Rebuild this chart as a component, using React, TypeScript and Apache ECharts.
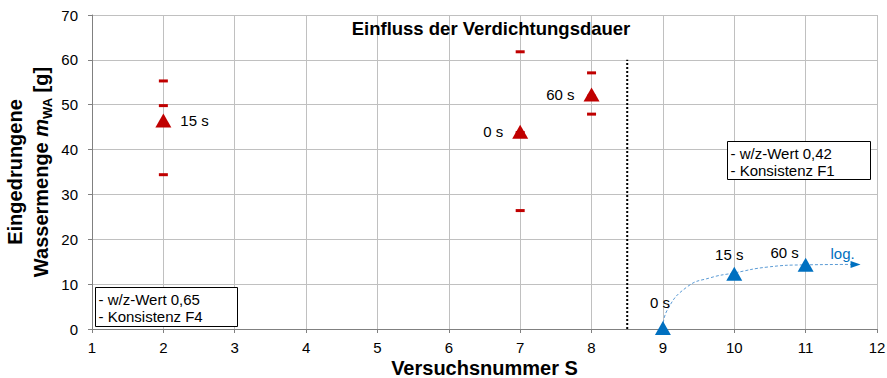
import React, { useEffect, useRef } from "react";
import * as echarts from "echarts";

// Series F4 (w/z 0.65) - mean values (triangles)
const redX = [2, 7, 8];
const redMean = [46.5, 44.0, 52.3];
const redLabels = ["15 s", "0 s", "60 s"];
// Individual measurements (dashes)
const redSingles: [number, number][] = [
  [2, 55.3], [2, 49.8], [2, 34.4],
  [7, 61.8], [7, 43.8], [7, 26.4],
  [8, 57.1], [8, 51.9], [8, 47.9],
];
// Series F1 (w/z 0.42)
const blueX = [9, 10, 11];
const blueMean = [0.2, 12.3, 14.3];
const blueLabels = ["0 s", "15 s", "60 s"];
// Logarithmic trend curve
const logCurve: [number, number][] = [
  [9.0, 0.3], [9.06, 4.2], [9.34, 9.4], [9.66, 11.4], [10.0, 12.5],
  [10.46, 13.8], [11.0, 14.3], [11.7, 14.4],
];
const divider: [number, number][] = [[8.5, 0], [8.5, 60]];

const RED = "#c00000";
const BLUE = "#0070c0";
const FONT = "Liberation Sans, Arial, sans-serif";

export default function App() {
  const ref = useRef<HTMLDivElement>(null);
  useEffect(() => {
    const chart = echarts.init(ref.current!, null, { renderer: "svg" });
    const redPos = ["right", "left", "left"];
    const bluePos = [
      { position: "top", offset: [-3, -6] },
      { position: "top", offset: [-5, 0] },
      { position: "top", offset: [-21, 7] },
    ];
    const boxText = { font: `15px ${FONT}`, fill: "#000", lineHeight: 17 };
    chart.setOption({
      animation: false,
      textStyle: { fontFamily: FONT },
      title: {
        text: "Einfluss der Verdichtungsdauer",
        left: 491,
        textAlign: "center",
        top: 19,
        padding: 0,
        textStyle: { fontSize: 18.5, fontWeight: "bold", color: "#000", fontFamily: FONT },
      },
      grid: { left: 92, right: 10, top: 15, bottom: 49, outerBoundsMode: "none", containLabel: false },
      xAxis: {
        type: "value",
        min: 1,
        max: 12,
        interval: 1,
        name: "Versuchsnummer S",
        nameLocation: "middle",
        nameGap: 28,
        nameMoveOverlap: false,
        nameTextStyle: { fontSize: 20, fontWeight: "bold", color: "#000", fontFamily: FONT, lineHeight: 21 },
        axisLine: { onZero: false, lineStyle: { color: "#808080", width: 1 } },
        axisTick: { show: true, length: 4, lineStyle: { color: "#808080" } },
        axisLabel: { fontSize: 15, color: "#000", margin: 11, fontFamily: FONT },
        splitLine: { show: true, lineStyle: { color: "#c0c0c0", width: 1 } },
      },
      yAxis: {
        type: "value",
        min: 0,
        max: 70,
        interval: 10,
        name: "Eingedrungene\nWassermenge {i|m}{sub|WA} [g]",
        nameLocation: "middle",
        nameGap: 38,
        nameMoveOverlap: false,
        nameRotate: 90,
        nameTextStyle: {
          fontSize: 20,
          fontWeight: "bold",
          color: "#000",
          fontFamily: FONT,
          lineHeight: 26,
          rich: {
            i: { fontSize: 20, fontWeight: "bold", fontStyle: "italic", color: "#000", fontFamily: FONT, lineHeight: 26 },
            sub: { fontSize: 13, fontWeight: "bold", color: "#000", fontFamily: FONT, verticalAlign: "bottom", lineHeight: 26, padding: [10, 0, 0, 0] },
          },
        },
        axisLine: { show: true, lineStyle: { color: "#808080", width: 1 } },
        axisTick: { show: true, length: 4, lineStyle: { color: "#808080" } },
        axisLabel: { fontSize: 15, color: "#000", margin: 14, fontFamily: FONT },
        splitLine: { show: true, lineStyle: { color: "#c0c0c0", width: 1 } },
      },
      series: [
        {
          type: "line",
          data: divider,
          symbol: "none",
          lineStyle: { color: "#000", width: 2, type: [2, 2] },
          z: 3,
        },
        {
          type: "line",
          data: logCurve,
          smooth: true,
          symbol: "none",
          lineStyle: { color: "#5b9bd5", width: 1, type: [3, 2] },
          z: 3,
        },
        {
          type: "scatter",
          data: [{
            value: logCurve[logCurve.length - 1],
            label: { show: true, formatter: "log.", position: "top", distance: 5, offset: [-13, 5], color: BLUE, fontSize: 15, fontFamily: FONT },
          }],
          symbol: "triangle",
          symbolRotate: -90,
          symbolSize: [7, 10],
          itemStyle: { color: BLUE, opacity: 1 },
          z: 4,
        },
        {
          type: "scatter",
          data: redSingles,
          symbol: "rect",
          symbolSize: [9, 3],
          itemStyle: { color: RED, opacity: 1 },
          z: 4,
        },
        {
          type: "scatter",
          data: redX.map((x, i) => ({
            value: [x, redMean[i]],
            label: {
              show: true,
              formatter: redLabels[i],
              position: redPos[i],
              distance: 9,
              color: "#000",
              fontSize: 15,
              fontFamily: FONT,
            },
          })),
          symbol: "triangle",
          symbolSize: [16, 14],
          itemStyle: { color: RED, opacity: 1 },
          z: 5,
        },
        {
          type: "scatter",
          data: blueX.map((x, i) => ({
            value: [x, blueMean[i]],
            label: {
              show: true,
              formatter: blueLabels[i],
              position: bluePos[i].position,
              offset: bluePos[i].offset,
              distance: 5,
              color: "#000",
              fontSize: 15,
              fontFamily: FONT,
            },
          })),
          symbol: "triangle",
          symbolSize: [16, 14],
          itemStyle: { color: BLUE, opacity: 1 },
          z: 5,
        },
      ],
      graphic: [
        {
          type: "group",
          left: 95,
          top: 287,
          z: 100,
          children: [
            { type: "rect", z: 100, shape: { x: 0, y: 0, width: 142, height: 39 }, style: { fill: "#fff", stroke: "#000", lineWidth: 1 } },
            { type: "text", z: 101, x: 3, y: 3, style: { text: "- w/z-Wert 0,65\n- Konsistenz F4", ...boxText } },
          ],
        },
        {
          type: "group",
          left: 727,
          top: 141,
          z: 100,
          children: [
            { type: "rect", z: 100, shape: { x: 0, y: 0, width: 143, height: 38 }, style: { fill: "#fff", stroke: "#000", lineWidth: 1 } },
            { type: "text", z: 101, x: 3, y: 3, style: { text: "- w/z-Wert 0,42\n- Konsistenz F1", ...boxText } },
          ],
        },
      ],
    });
    return () => chart.dispose();
  }, []);
  return <div ref={ref} style={{ width: 887, height: 378, position: "absolute", left: 0, top: 0 }} />;
}
